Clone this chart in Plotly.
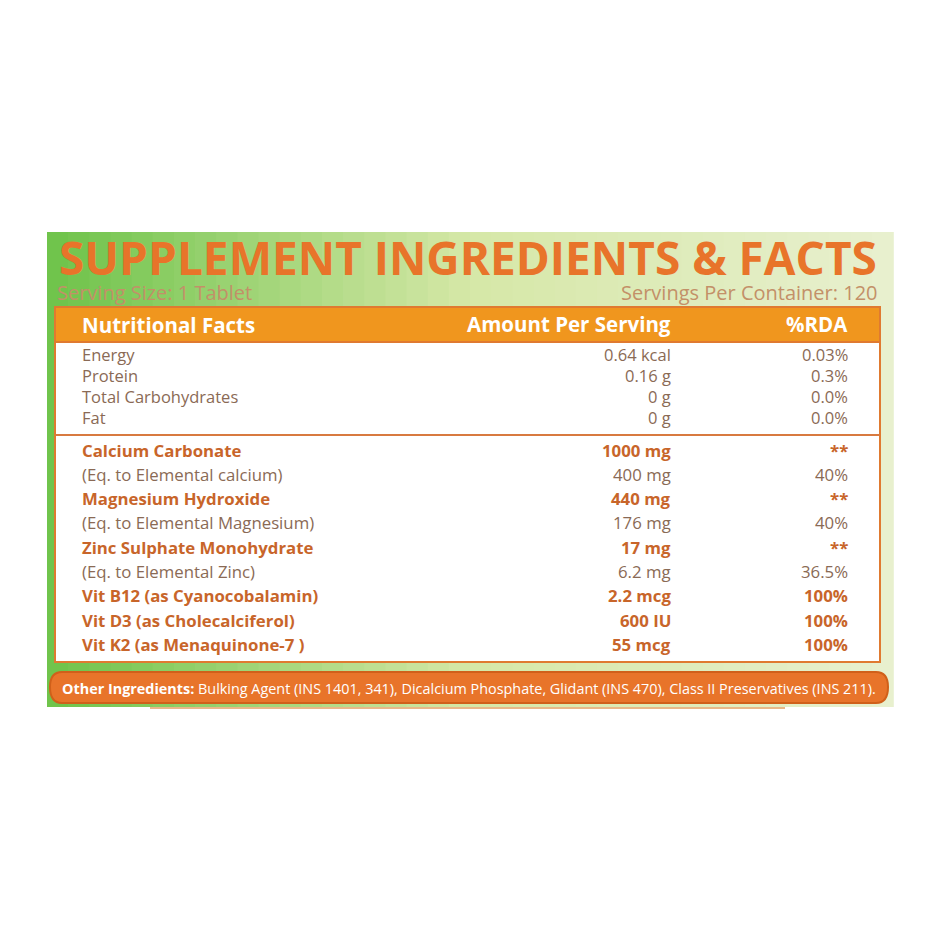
import plotly.graph_objects as go

# label contents
basic_names = ["Energy", "Protein", "Total Carbohydrates", "Fat"]
basic_amounts = ["0.64 kcal", "0.16 g", "0 g", "0 g"]
basic_rda = ["0.03%", "0.3%", "0.0%", "0.0%"]

mineral_names = ["Calcium Carbonate", "(Eq. to Elemental calcium)", "Magnesium Hydroxide",
                 "(Eq. to Elemental Magnesium)", "Zinc Sulphate Monohydrate", "(Eq. to Elemental Zinc)",
                 "Vit B12 (as Cyanocobalamin)", "Vit D3 (as Cholecalciferol)", "Vit K2 (as Menaquinone-7 )"]
mineral_amounts = ["1000 mg", "400 mg", "440 mg", "176 mg", "17 mg", "6.2 mg", "2.2 mcg", "600 IU", "55 mcg"]
mineral_rda = ["**", "40%", "**", "40%", "**", "36.5%", "100%", "100%", "100%"]
mineral_bold = [True, False, True, False, True, False, True, True, True]

title = "SUPPLEMENT INGREDIENTS & FACTS"
serving_size = "Serving Size: 1 Tablet"
servings = "Servings Per Container: 120"
other = "Bulking Agent (INS 1401, 341), Dicalcium Phosphate, Glidant (INS 470), Class II Preservatives (INS 211)."

ORANGE = "#e8742a"
BOLDC = "#c8652a"
GREY = "#8a6a55"
FONT = "Open Sans"

fig = go.Figure()
shapes = []
ann = []

# green gradient panel (left green -> pale yellow)
def mix(a, b, t):
    return "rgb(%d,%d,%d)" % tuple(int(a[k] + (b[k] - a[k]) * t) for k in range(3))

left, mid, right = (112, 196, 76), (214, 232, 168), (232, 240, 206)
n = 40
x0, x1 = 47, 893
w = (x1 - x0) / n
for i in range(n):
    t = i / (n - 1)
    c = mix(left, mid, t / 0.5) if t < 0.5 else mix(mid, right, (t - 0.5) / 0.5)
    shapes.append(dict(type="rect", x0=x0 + i * w, x1=x0 + (i + 1) * w + 0.8, y0=232, y1=707,
                       fillcolor=c, line_width=0, layer="below"))

# table box
shapes.append(dict(type="rect", x0=55, x1=880, y0=307, y1=662, fillcolor="white", line=dict(color="#e07a30", width=2)))
shapes.append(dict(type="rect", x0=55, x1=880, y0=307, y1=342, fillcolor="#f0961e", line=dict(color="#e07a30", width=2)))
shapes.append(dict(type="line", x0=55, x1=880, y0=435, y1=435, line=dict(color="#d87a40", width=2)))
# footer pill
shapes.append(dict(type="path", path="M 62 672 L 876 672 Q 888 672 888 687 Q 888 703 876 703 L 62 703 Q 50 703 50 687 Q 50 672 62 672 Z",
                   fillcolor=ORANGE, line=dict(color="#d0601a", width=2)))
shapes.append(dict(type="line", x0=150, x1=785, y0=708, y1=708, line=dict(color="#e0a060", width=1.5)))

ann.append(dict(x=468, y=257, text="<b>" + title + "</b>", font=dict(size=46, color=ORANGE, family=FONT), xanchor="center"))
ann.append(dict(x=55, y=292, text=serving_size, font=dict(size=20, color="#c39068", family=FONT), xanchor="left"))
ann.append(dict(x=880, y=292, text=servings, font=dict(size=20, color="#c39068", family=FONT), xanchor="right"))

hf = dict(size=20.5, color="white", family=FONT)
ann.append(dict(x=80, y=325, text="<b>Nutritional Facts</b>", font=hf, xanchor="left"))
ann.append(dict(x=673, y=324, text="<b>Amount Per Serving</b>", font=hf, xanchor="right"))
ann.append(dict(x=817, y=324, text="<b>%RDA</b>", font=hf, xanchor="center"))

for i in range(len(basic_names)):
    y = 354 + i * 21
    f = dict(size=16.5, color=GREY, family=FONT)
    ann.append(dict(x=80, y=y, text=basic_names[i], font=f, xanchor="left"))
    ann.append(dict(x=673, y=y, text=basic_amounts[i], font=f, xanchor="right"))
    ann.append(dict(x=850, y=y, text=basic_rda[i], font=f, xanchor="right"))

for i in range(len(mineral_names)):
    y = 450 + i * 24.3
    b = mineral_bold[i]
    f = dict(size=16.8, color=BOLDC if b else GREY, family=FONT)
    wrap = (lambda s: "<b>" + s + "</b>") if b else (lambda s: s)
    ann.append(dict(x=80, y=y, text=wrap(mineral_names[i]), font=f, xanchor="left"))
    ann.append(dict(x=673, y=y, text=wrap(mineral_amounts[i]), font=f, xanchor="right"))
    ann.append(dict(x=850, y=y, text=wrap(mineral_rda[i]), font=f, xanchor="right"))

ann.append(dict(x=60, y=688, text="<b>Other Ingredients:</b> " + other,
                font=dict(size=14.4, color="white", family=FONT), xanchor="left"))

for a in ann:
    a.update(xref="x", yref="y", showarrow=False, yanchor="middle")

# ranges offset by the page's 8px body margin so data units equal screen pixels
fig.update_layout(width=940, height=940, margin=dict(l=0, r=0, t=0, b=0),
                  paper_bgcolor="white", plot_bgcolor="white", shapes=shapes, annotations=ann,
                  showlegend=False)
fig.update_xaxes(range=[8, 948], visible=False, fixedrange=True)
fig.update_yaxes(range=[948, 8], visible=False, fixedrange=True)
fig.write_html("out.html")
